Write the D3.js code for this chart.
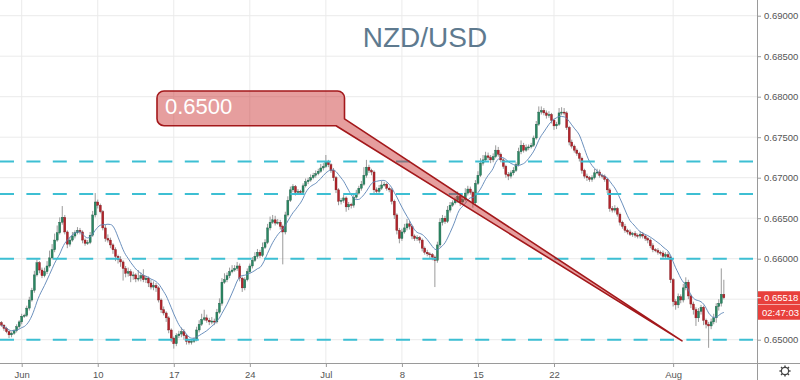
<!DOCTYPE html>
<html><head><meta charset="utf-8">
<script src="https://cdn.jsdelivr.net/npm/d3@7"></script>
<style>body{margin:0;background:#fff;} svg{display:block;font-family:"Liberation Sans",Arial,sans-serif;}</style>
</head><body><svg id="c" width="800" height="380"></svg>
<script>
// ---- data (4h candles, NZD/USD) ----
const closes = [
0.6518,0.6514,0.6510,0.6506,0.6508,0.6511,0.6516,0.6522,0.6529,0.6530,
0.6539,0.6549,0.6561,0.6580,0.6595,0.6586,0.6579,0.6584,0.6591,0.6601,
0.6611,0.6623,0.6632,0.6645,0.6651,0.6633,0.6618,0.6623,0.6628,0.6632,
0.6635,0.6633,0.6623,0.6619,0.6620,0.6629,0.6654,0.6670,0.6666,0.6658,
0.6638,0.6625,0.6623,0.6617,0.6611,0.6603,0.6599,0.6596,0.6588,0.6582,
0.6584,0.6579,0.6580,0.6575,0.6576,0.6579,0.6574,0.6576,0.6570,0.6565,
0.6567,0.6564,0.6549,0.6537,0.6533,0.6527,0.6512,0.6502,0.6495,0.6505,
0.6507,0.6510,0.6505,0.6498,0.6497,0.6498,0.6500,0.6512,0.6519,0.6525,
0.6527,0.6524,0.6522,0.6523,0.6522,0.6534,0.6545,0.6571,0.6574,0.6579,
0.6584,0.6586,0.6588,0.6591,0.6576,0.6564,0.6574,0.6584,0.6591,0.6598,
0.6603,0.6608,0.6604,0.6614,0.6620,0.6638,0.6645,0.6648,0.6644,0.6645,
0.6640,0.6633,0.6654,0.6672,0.6685,0.6689,0.6682,0.6683,0.6682,0.6690,
0.6695,0.6697,0.6700,0.6703,0.6705,0.6708,0.6712,0.6714,0.6719,0.6716,
0.6709,0.6700,0.6685,0.6671,0.6672,0.6675,0.6664,0.6667,0.6666,0.6676,
0.6681,0.6687,0.6692,0.6703,0.6713,0.6709,0.6707,0.6685,0.6683,0.6687,
0.6691,0.6692,0.6687,0.6685,0.6671,0.6654,0.6635,0.6625,0.6633,0.6638,
0.6643,0.6640,0.6628,0.6625,0.6626,0.6623,0.6613,0.6608,0.6606,0.6605,
0.6602,0.6598,0.6617,0.6645,0.6650,0.6646,0.6660,0.6666,0.6669,0.6672,
0.6677,0.6670,0.6673,0.6681,0.6686,0.6682,0.6669,0.6693,0.6703,0.6718,
0.6722,0.6727,0.6725,0.6722,0.6726,0.6734,0.6729,0.6722,0.6714,0.6704,
0.6702,0.6706,0.6709,0.6716,0.6732,0.6740,0.6734,0.6737,0.6738,0.6740,
0.6749,0.6766,0.6781,0.6783,0.6780,0.6777,0.6778,0.6771,0.6764,0.6766,
0.6780,0.6781,0.6780,0.6762,0.6744,0.6739,0.6734,0.6730,0.6724,0.6709,
0.6702,0.6700,0.6698,0.6700,0.6706,0.6707,0.6703,0.6702,0.6698,0.6685,
0.6662,0.6660,0.6662,0.6655,0.6645,0.6640,0.6635,0.6633,0.6630,0.6631,
0.6629,0.6628,0.6630,0.6628,0.6625,0.6623,0.6616,0.6611,0.6610,0.6608,
0.6607,0.6603,0.6605,0.6602,0.6574,0.6547,0.6543,0.6553,0.6549,0.6564,
0.6571,0.6554,0.6544,0.6537,0.6527,0.6535,0.6540,0.6524,0.6519,0.6517,
0.6522,0.6527,0.6541,0.6545,0.6556,0.65518
];
// wick lengths beyond the body, in pips
const wickUp = [
2,1,2,1,2,2,3,2,3,2, 3,4,3,5,4,2,3,5,6,9, 7,8,9,6,14,3,2,4,5,3, 4,3,2,2,3,4,5,11,3,2,
2,4,5,3,2,3,2,4,2,3, 5,3,4,2,10,4,8,3,2,4, 5,3,2,2,4,2,2,2,2,3, 4,5,3,2,2,2,3,4,5,7,
10,4,3,5,3,4,6,5,8,4, 5,6,4,5,3,2,3,4,3,4, 5,4,3,6,4,5,7,6,5,4, 3,2,4,5,4,3,2,3,2,3,
4,3,4,3,4,3,5,4,9,3, 2,3,2,2,3,4,2,3,2,3, 4,3,4,10,9,3,2,2,3,4, 5,3,2,2,2,2,2,3,4,5,
6,4,2,2,3,2,2,2,3,2, 2,2,4,5,4,3,5,4,3,4, 6,3,5,6,4,3,2,4,5,6, 6,5,4,3,4,6,4,2,2,2,
3,3,4,3,5,6,3,4,3,3, 3,4,7,5,3,3,4,2,2,3, 6,6,5,2,2,3,2,2,2,2, 2,3,2,3,5,4,3,2,2,2,
2,3,4,2,2,2,3,2,3,2, 3,2,4,3,2,2,2,3,2,3, 2,3,3,4,2,2,3,4,3,5, 6,3,2,3,3,4,3,2,2,3,
4,5,4,5,32,18
];
const wickDown = [
2,3,2,4,3,2,2,2,3,2, 2,3,2,3,2,4,3,2,3,2, 2,3,2,2,3,3,5,3,2,3, 2,3,4,3,2,2,2,3,4,2,
3,4,3,4,5,6,5,6,15,5, 4,8,5,4,3,4,3,4,5,3, 4,5,3,4,3,5,4,5,6,3, 3,4,5,4,3,3,2,2,3,2,
2,3,4,3,4,2,2,3,2,3, 3,2,2,3,4,5,3,2,2,3, 2,3,3,2,2,2,3,2,3,2, 4,40,3,2,2,3,4,3,3,2,
2,3,2,2,3,2,2,3,2,3, 3,4,4,5,4,3,6,4,4,3, 2,2,3,2,3,3,4,5,4,3, 2,2,3,3,4,5,5,6,3,2,
3,4,4,3,3,4,4,3,3,4, 4,33,3,3,4,3,2,3,2,2, 3,5,3,2,3,3,6,3,2,2, 3,2,3,4,3,2,3,3,3,4,
5,3,3,2,2,3,3,2,3,2, 2,2,2,3,3,4,3,4,5,4, 2,3,3,3,4,3,3,3,4,4, 3,4,3,3,2,2,3,3,3,4,
4,3,3,3,4,3,3,3,2,3, 3,3,3,3,3,4,3,3,2,3, 3,3,2,3,4,6,6,4,4,3, 3,4,5,6,10,5,4,6,5,27,
4,3,6,5,4,2
];
const xTickBars = [8, 38, 68, 98, 128, 158, 188, 218, 265];
const xTickLabels = ["Jun", "10", "17", "24", "Jul", "8", "15", "22", "Aug"];
const yTickValues = [0.650, 0.655, 0.660, 0.665, 0.670, 0.675, 0.680, 0.685, 0.690];
const levelLines = [0.6720, 0.6680, 0.6600, 0.6500];
const titleText = "NZD/USD";
const calloutText = "0.6500";
const calloutTarget = [268.5, 0.64985]; // [bar, price]
const lastPriceText = "0.65518";
const lastPrice = 0.65518;
const countdownText = "02:47:03";
const maPeriod = 9;

// ---- layout ----
const W = 800, H = 380, plotR = 757, plotB = 363;
const pip = 0.0001;
const svg = d3.select("#c");
const x = d3.scaleLinear().domain([8, 218]).range([21.7, 554]);
const y = d3.scaleLinear().domain([0.650, 0.690]).range([339.7, 15.7]);

svg.append("defs").append("clipPath").attr("id","clip")
  .append("rect").attr("x",0).attr("y",0).attr("width",plotR).attr("height",plotB);

// grid
const grid = svg.append("g");
grid.selectAll("line.h").data(yTickValues).join("line")
  .attr("x1",0).attr("x2",plotR).attr("y1",d=>y(d)).attr("y2",d=>y(d))
  .attr("stroke","#ebebeb").attr("stroke-width",1);
grid.selectAll("line.v").data(xTickBars).join("line")
  .attr("x1",d=>x(d)).attr("x2",d=>x(d)).attr("y1",0).attr("y2",plotB)
  .attr("stroke","#ebebeb").attr("stroke-width",1);

// candles
const bars = closes.map((c,i)=>{
  const o = i>0 ? closes[i-1] : c + 0.0003;
  return {i, o, c, h: Math.max(o,c)+wickUp[i]*pip, l: Math.min(o,c)-wickDown[i]*pip};
});
const cg = svg.append("g").attr("clip-path","url(#clip)");
cg.selectAll("line.w").data(bars).join("line")
  .attr("x1",d=>x(d.i)).attr("x2",d=>x(d.i))
  .attr("y1",d=>y(d.h)).attr("y2",d=>y(d.l))
  .attr("stroke","#8e8e8e").attr("stroke-width",0.9);
cg.selectAll("rect.b").data(bars).join("rect")
  .attr("x",d=>x(d.i)-1).attr("width",2)
  .attr("y",d=>y(Math.max(d.o,d.c)))
  .attr("height",d=>Math.max(1, Math.abs(y(d.o)-y(d.c))))
  .attr("fill",d=>d.c>=d.o?"#2a8763":"#b3242b")
  .attr("stroke",d=>d.c>=d.o?"#1f5e46":"#7d1a1e").attr("stroke-width",0.4);

// moving average
const ma = closes.map((c,i)=>{
  const s = closes.slice(Math.max(0,i-maPeriod+1), i+1);
  return {i, v: d3.mean(s)};
});
cg.append("path").datum(ma)
  .attr("d", d3.line().x(d=>x(d.i)).y(d=>y(d.v)).curve(d3.curveMonotoneX))
  .attr("fill","none").attr("stroke","#5b84b6").attr("stroke-width",1).attr("opacity",0.9);

// dashed level lines
svg.append("g").selectAll("line").data(levelLines).join("line")
  .attr("x1",0).attr("x2",plotR-4).attr("y1",d=>y(d)).attr("y2",d=>y(d))
  .attr("stroke","#3dbfd3").attr("stroke-width",2).attr("stroke-dasharray","14,12.4");

// callout
const bx0=157, by0=91, bx1=344.5, by1=125.7, r=7;
const tx = x(calloutTarget[0]), ty = y(calloutTarget[1]);
const p = d3.path();
p.moveTo(bx0+r,by0); p.lineTo(bx1-r,by0); p.arcTo(bx1,by0,bx1,by0+r,r);
p.lineTo(bx1,118.8); p.lineTo(tx,ty); p.lineTo(336,by1);
p.lineTo(bx0+r,by1); p.arcTo(bx0,by1,bx0,by1-r,r); p.lineTo(bx0,by0+r); p.arcTo(bx0,by0,bx0+r,by0,r);
p.closePath();
svg.append("path").attr("d",p.toString())
  .attr("fill","rgba(200,40,40,0.45)").attr("stroke","#a3181b").attr("stroke-width",1.6)
  .attr("stroke-linejoin","round");
svg.append("text").attr("x",165).attr("y",114).text(calloutText)
  .attr("fill","#fff").attr("font-size",22);

// title
svg.append("text").attr("x",425).attr("y",47).attr("text-anchor","middle")
  .text(titleText).attr("fill","#5e7a8f").attr("font-size",28);

// axes
const yAxis = d3.axisRight(y).tickValues(yTickValues).tickFormat(d3.format(".5f")).tickSize(4).tickPadding(3);
const ya = svg.append("g").attr("transform",`translate(${plotR},0)`).call(yAxis);
ya.select(".domain").remove();
ya.selectAll("line").attr("stroke","#9a9a9a");
ya.selectAll("text").attr("fill","#555").attr("font-size",9.5).attr("font-family","Liberation Sans, Arial, sans-serif");

const xAxis = d3.axisBottom(x).tickValues(xTickBars).tickFormat((d,i)=>xTickLabels[i]).tickSize(4).tickPadding(4);
const xa = svg.append("g").attr("transform",`translate(0,${plotB})`).call(xAxis);
xa.select(".domain").remove();
xa.selectAll("line").attr("stroke","#9a9a9a");
xa.selectAll("text").attr("fill","#555").attr("font-size",9.5).attr("font-family","Liberation Sans, Arial, sans-serif");

svg.append("line").attr("x1",0).attr("x2",W).attr("y1",plotB+0.5).attr("y2",plotB+0.5).attr("stroke","#9a9a9a");
svg.append("line").attr("x1",plotR+0.5).attr("x2",plotR+0.5).attr("y1",0).attr("y2",H).attr("stroke","#9a9a9a");

// last price labels
const ly = y(lastPrice);
svg.append("rect").attr("x",plotR+1).attr("y",ly-6.5).attr("width",W-plotR-1).attr("height",13).attr("fill","#e8403c");
svg.append("text").attr("x",764).attr("y",ly+3.5).text(lastPriceText).attr("fill","#fff").attr("font-size",9.5);
svg.append("rect").attr("x",plotR+1).attr("y",ly+7).attr("width",W-plotR-1).attr("height",15).attr("fill","#e8403c");
svg.append("text").attr("x",762).attr("y",ly+18).text(countdownText).attr("fill","#fff").attr("font-size",9.5);
svg.append("line").attr("x1",plotR).attr("x2",plotR+4).attr("y1",ly).attr("y2",ly).attr("stroke","#fff");

// gear icon
const gear = svg.append("g").attr("transform","translate(785,371)");
gear.append("circle").attr("r",3.6).attr("fill","none").attr("stroke","#444").attr("stroke-width",1.2);
gear.selectAll("line").data(d3.range(8)).join("line")
  .attr("x1",d=>3.6*Math.cos(d*Math.PI/4)).attr("y1",d=>3.6*Math.sin(d*Math.PI/4))
  .attr("x2",d=>5.6*Math.cos(d*Math.PI/4)).attr("y2",d=>5.6*Math.sin(d*Math.PI/4))
  .attr("stroke","#444").attr("stroke-width",1.4);
</script></body></html>
